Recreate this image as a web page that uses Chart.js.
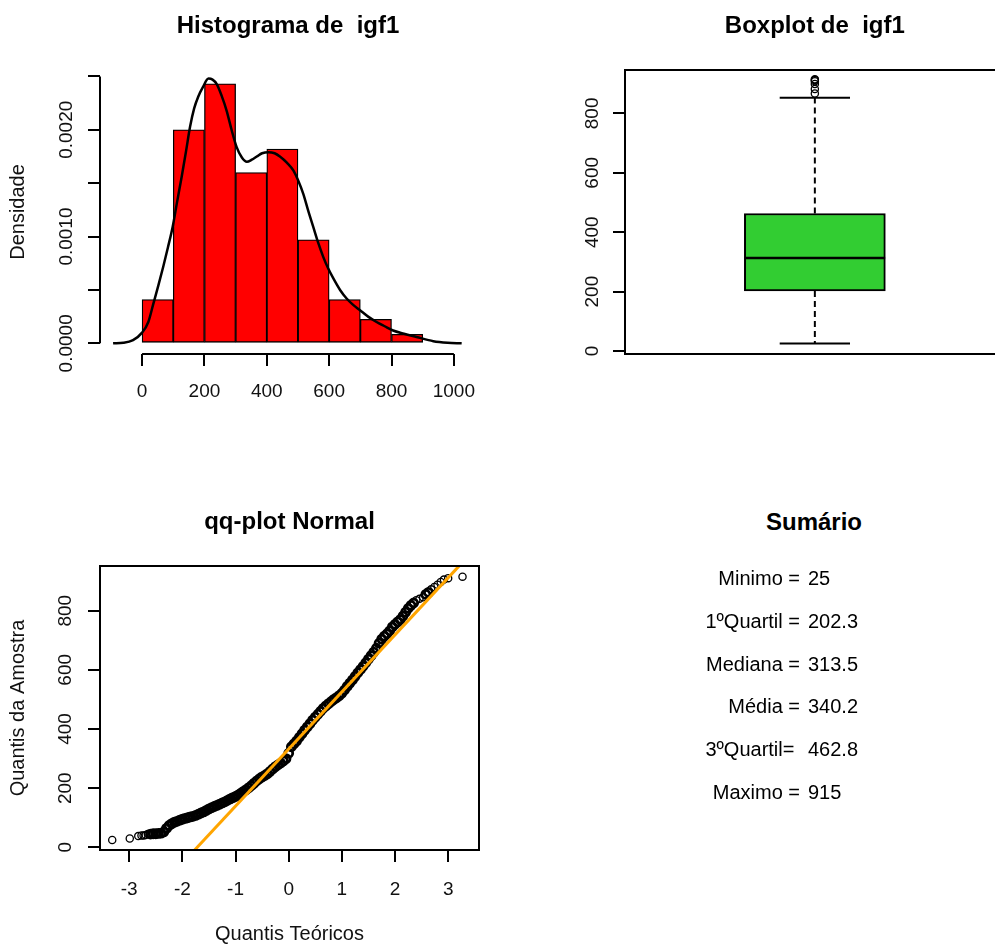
<!DOCTYPE html>
<html>
<head>
<meta charset="utf-8">
<title>igf1</title>
<script src="https://cdn.jsdelivr.net/npm/chart.js@4.4.0/dist/chart.umd.min.js"></script>
<style>
  html, body { margin: 0; padding: 0; background: #fff; overflow: hidden; width: 995px; height: 945px; }
  canvas { position: absolute; }
  #hist { left: 0; top: 0; }
  #box { left: 540px; top: 0; }
  #qq { left: 0; top: 500px; }
  .sum { position: absolute; font-family: "Liberation Sans", Arial, sans-serif; color: #000; white-space: pre; line-height: 24px; font-size: 20px; }
  .sum.title { font-weight: bold; font-size: 24px; line-height: 28px; width: 300px; left: 664px; text-align: center; }
  .sum.lab { left: 0; width: 800px; text-align: right; }
  .sum.val { left: 808px; }
</style>
</head>
<body>
<canvas id="hist" width="500" height="440"></canvas>
<canvas id="box" width="470" height="440"></canvas>
<canvas id="qq" width="500" height="445"></canvas>
<div id="summary"></div>
<script>
// histograma (densidade por classe de 100)
const histBreaks = [0, 100, 200, 300, 400, 500, 600, 700, 800, 900];
const histDensity = [0.00041, 0.0020, 0.00243, 0.0016, 0.00182, 0.00097, 0.00041, 0.000225, 0.000084];
const histXTicks = [0, 200, 400, 600, 800, 1000];
const histXLabels = ['0', '200', '400', '600', '800', '1000'];
const histYTicks = [0, 0.0005, 0.001, 0.0015, 0.002, 0.0025];
const histYLabels = ['0.0000', '', '0.0010', '', '0.0020', ''];

// curva de densidade
const densX = [-93, -60, -29, 0, 20, 36, 52, 68, 83, 98, 112, 127, 141, 154, 167, 180, 195, 213, 226, 239,
  255, 271, 287, 303, 320, 336, 352, 368, 385, 405, 425, 442, 465, 485, 500, 517, 533, 549, 565, 581,
  597, 613, 635, 656, 677, 699, 725, 752, 778, 805, 840, 880, 934, 980, 1025];
const densY = [0, 0.000005, 0.00003, 0.0001, 0.0002, 0.00037, 0.00054, 0.00072, 0.0009, 0.00109,
  0.00132, 0.00156, 0.0018, 0.00203, 0.0022, 0.00231, 0.0024, 0.00248, 0.00247, 0.00243,
  0.00232, 0.00218, 0.002, 0.00184, 0.00174, 0.0017, 0.00172, 0.00175, 0.00178, 0.00179,
  0.00178, 0.00175, 0.00169, 0.00162, 0.00153, 0.0014, 0.00124, 0.00109, 0.00094, 0.00081,
  0.0007, 0.00061, 0.0005, 0.00042, 0.00036, 0.00031, 0.00025, 0.0002, 0.00016, 0.00012,
  0.00009, 0.00006, 0.00002, 0.000005, 0];

// boxplot: bigode inferior, Q1, mediana, Q3, bigode superior
const boxStats = [25, 202.3, 313.5, 462.8, 853];
const boxOutliers = [867, 882, 899, 908, 912, 915];
const boxYTicks = [0, 200, 400, 600, 800];
const boxYLabels = ['0', '200', '400', '600', '800'];

// qq-plot
const qqTheo = [-3.32, -2.99, -2.83, -2.77, -2.73, -2.69,
  -2.65, -2.60, -2.55, -2.50, -2.45, -2.40, -2.35, -2.30, -2.25, -2.20,
  -2.15, -2.10, -2.05, -2.00, -1.95, -1.90, -1.85, -1.80, -1.75, -1.70,
  -1.65, -1.60, -1.55, -1.50, -1.45, -1.40, -1.35, -1.30, -1.25, -1.20,
  -1.15, -1.10, -1.05, -1.00, -0.95, -0.90, -0.85, -0.80, -0.75, -0.70,
  -0.65, -0.60, -0.55, -0.50, -0.45, -0.40, -0.35, -0.30, -0.25, -0.20,
  -0.15, -0.10, -0.05, 0.00, 0.05, 0.10, 0.15, 0.20, 0.25, 0.30,
  0.35, 0.40, 0.45, 0.50, 0.55, 0.60, 0.65, 0.70, 0.75, 0.80,
  0.85, 0.90, 0.95, 1.00, 1.05, 1.10, 1.15, 1.20, 1.25, 1.30,
  1.35, 1.40, 1.45, 1.50, 1.55, 1.60, 1.65, 1.70, 1.75, 1.80,
  1.85, 1.90, 1.95, 2.00, 2.05, 2.10, 2.15, 2.20, 2.25, 2.30,
  2.35, 2.40,
  2.46, 2.53, 2.58, 2.63, 2.68, 2.74, 2.80, 2.86, 2.92, 3.00, 3.27];
const qqSample = [25, 30, 38, 40, 40, 42,
  45, 45, 46, 46, 47, 48, 52, 64, 74, 80,
  85, 88, 92, 95, 98, 100, 103, 105, 108, 112,
  116, 120, 125, 130, 134, 138, 142, 146, 150, 154,
  159, 164, 168, 172, 177, 183, 189, 195, 202, 209,
  217, 225, 232, 238, 243, 249, 257, 265, 273, 279,
  285, 292, 300, 318, 340, 350, 360, 372, 384, 396,
  407, 418, 430, 440, 450, 460, 470, 478, 486, 493,
  500, 506, 513, 521, 532, 544, 555, 566, 578, 590,
  601, 612, 624, 636, 648, 660, 673, 690, 704, 714,
  722, 732, 745, 754, 762, 770, 782, 795, 808, 818,
  826, 835,
  840, 845, 855, 862, 872, 880, 888, 897, 905, 910, 915];
const qqLineX = [-1.80, 3.22];
const qqLineY = [-15, 954];
const qqXTicks = [-3, -2, -1, 0, 1, 2, 3];
const qqXLabels = ['-3', '-2', '-1', '0', '1', '2', '3'];
const qqYTicks = [0, 200, 400, 600, 800];
const qqYLabels = ['0', '200', '400', '600', '800'];

// sumário
const summaryLabels = ['Minimo =', '1ºQuartil =', 'Mediana =', 'Média =', '3ºQuartil= ', 'Maximo ='];
const summaryValues = ['25', '202.3', '313.5', '340.2', '462.8', '915'];

const FONT = '"Liberation Sans", Arial, sans-serif';
Chart.defaults.font.family = FONT;
Chart.defaults.color = '#000';

// titulos, rotulos verticais, eixos estilo R
const rDecor = {
    id: 'rDecor',
    afterDraw(chart, args, opts) {
        const ctx = chart.ctx;
        const a = chart.chartArea;
        const xs = chart.scales.x;
        const ys = chart.scales.y;
        ctx.save();
        ctx.fillStyle = '#000';
        ctx.strokeStyle = '#000';
        ctx.lineWidth = 2;

        ctx.beginPath();
        if (opts.frame) {
            ctx.rect(a.left, a.top, a.right - a.left, a.bottom - a.top);
        } else {
            const yt = ys.ticks, xt = xs.ticks;
            ctx.moveTo(a.left, ys.getPixelForValue(yt[0].value));
            ctx.lineTo(a.left, ys.getPixelForValue(yt[yt.length - 1].value));
            ctx.moveTo(xs.getPixelForValue(xt[0].value), a.bottom);
            ctx.lineTo(xs.getPixelForValue(xt[xt.length - 1].value), a.bottom);
        }
        ctx.stroke();

        ctx.textAlign = 'center';
        ctx.textBaseline = 'middle';
        ctx.font = 'bold 24px ' + FONT;
        ctx.fillText(opts.title, (a.left + a.right) / 2, opts.titleY);

        ctx.font = '19px ' + FONT;
        ctx.fillStyle = '#111';
        ys.ticks.forEach((t, i) => {
            const label = opts.yLabels[i];
            if (!label) return;
            ctx.save();
            ctx.translate(opts.yLabelX, ys.getPixelForValue(t.value));
            ctx.rotate(-Math.PI / 2);
            ctx.fillText(label, 0, 0);
            ctx.restore();
        });

        ctx.font = '20px ' + FONT;
        if (opts.yTitle) {
            ctx.save();
            ctx.translate(opts.yTitleX, (a.top + a.bottom) / 2);
            ctx.rotate(-Math.PI / 2);
            ctx.fillText(opts.yTitle, 0, 0);
            ctx.restore();
        }
        if (opts.xTitle) {
            ctx.fillText(opts.xTitle, (a.left + a.right) / 2, opts.xTitleY);
        }
        ctx.restore();
    }
};

function yAxis(min, max, ticks, width) {
    return {
        type: 'linear', min: min, max: max, bounds: 'data',
        afterBuildTicks: s => { s.ticks = ticks.map(v => ({ value: v })); },
        afterFit: s => { s.width = width; },
        grid: { drawOnChartArea: false, drawTicks: true, tickLength: 12, color: '#000', lineWidth: 2 },
        border: { display: false },
        ticks: { display: false }
    };
}

function xAxis(min, max, ticks, labels, height, pad) {
    return {
        type: 'linear', min: min, max: max, bounds: 'data', offset: false,
        afterBuildTicks: s => { s.ticks = ticks.map(v => ({ value: v })); },
        afterFit: s => { s.height = height; },
        grid: { offset: false, drawOnChartArea: false, drawTicks: true, tickLength: 12, color: '#000', lineWidth: 2 },
        border: { display: false },
        ticks: {
            color: '#111', font: { size: 19 }, padding: pad, maxRotation: 0, minRotation: 0, autoSkip: false,
            callback: (v, i) => labels[i]
        }
    };
}

const common = {
    responsive: false,
    animation: false,
    events: [],
    plugins: { legend: { display: false }, tooltip: { enabled: false } }
};

// Histograma
new Chart(document.getElementById('hist'), {
    type: 'bar',
    data: {
        datasets: [
            {
                type: 'line',
                data: densX.map((x, i) => ({ x: x, y: densY[i] })),
                borderColor: '#000',
                borderWidth: 2.5,
                pointRadius: 0,
                fill: false,
                cubicInterpolationMode: 'monotone'
            },
            {
                type: 'bar',
                data: histDensity.map((d, i) => ({ x: (histBreaks[i] + histBreaks[i + 1]) / 2, y: d })),
                backgroundColor: '#FF0000',
                borderColor: '#000',
                borderWidth: 1.3,
                borderSkipped: false,
                barPercentage: 1,
                categoryPercentage: 1
            }
        ]
    },
    options: {
        ...common,
        layout: { padding: { left: 0, top: 70, right: 24, bottom: 0 } },
        scales: {
            x: xAxis(-135, 1071, histXTicks, histXLabels, 86, 14),
            y: yAxis(-0.0001, 0.00256, histYTicks, 100)
        },
        plugins: {
            ...common.plugins,
            rDecor: { title: 'Histograma de  igf1', titleY: 26, yLabels: histYLabels, yLabelX: 67, yTitle: 'Densidade', yTitleX: 18 }
        }
    },
    plugins: [rDecor]
});

// Boxplot
const boxCenter = 1, boxHalf = 0.2, capHalf = 0.1;
const [wLow, q1, med, q3, wHigh] = boxStats;
const seg = (x1, y1, x2, y2) => [{ x: x1, y: y1 }, { x: x2, y: y2 }];
new Chart(document.getElementById('box'), {
    type: 'bar',
    data: {
        datasets: [
            {
                type: 'scatter',
                data: boxOutliers.map(v => ({ x: boxCenter, y: v })),
                pointRadius: 3.6, borderWidth: 1.3, borderColor: '#000', backgroundColor: 'rgba(0,0,0,0)'
            },
            { type: 'line', data: seg(boxCenter - boxHalf, med, boxCenter + boxHalf, med), borderColor: '#000', borderWidth: 2.5, pointRadius: 0 },
            { type: 'line', data: seg(boxCenter, q3, boxCenter, wHigh), borderColor: '#000', borderWidth: 2, borderDash: [6, 4], pointRadius: 0 },
            { type: 'line', data: seg(boxCenter, q1, boxCenter, wLow), borderColor: '#000', borderWidth: 2, borderDash: [6, 4], pointRadius: 0 },
            { type: 'line', data: seg(boxCenter - capHalf, wHigh, boxCenter + capHalf, wHigh), borderColor: '#000', borderWidth: 2, pointRadius: 0 },
            { type: 'line', data: seg(boxCenter - capHalf, wLow, boxCenter + capHalf, wLow), borderColor: '#000', borderWidth: 2, pointRadius: 0 },
            {
                type: 'bar',
                data: [{ x: boxCenter, y: [q1, q3] }],
                backgroundColor: '#32CD32',
                borderColor: '#000',
                borderWidth: 2,
                borderSkipped: false,
                barThickness: 141
            }
        ]
    },
    options: {
        ...common,
        layout: { padding: { left: 0, top: 70, right: 5, bottom: 86 } },
        scales: {
            x: { type: 'linear', min: 0.46, max: 1.54, bounds: 'data', offset: false, display: false },
            y: yAxis(-10, 946, boxYTicks, 85)
        },
        plugins: {
            ...common.plugins,
            rDecor: { title: 'Boxplot de  igf1', titleY: 26, frame: true, yLabels: boxYLabels, yLabelX: 53 }
        }
    },
    plugins: [rDecor]
});

// qq-plot: pontos muito proximos viram uma faixa preta (como no R com muitos pontos)
function qqDense(ctx) {
    const i = ctx.dataIndex;
    const prev = i > 0 ? qqTheo[i] - qqTheo[i - 1] : 1;
    const next = i < qqTheo.length - 1 ? qqTheo[i + 1] - qqTheo[i] : 1;
    return prev <= 0.051 && next <= 0.051 && prev >= 0.045;
}
new Chart(document.getElementById('qq'), {
    type: 'scatter',
    data: {
        datasets: [
            {
                type: 'line',
                data: qqLineX.map((x, i) => ({ x: x, y: qqLineY[i] })),
                borderColor: '#FFA500',
                borderWidth: 3,
                pointRadius: 0
            },
            {
                type: 'scatter',
                data: qqTheo.map((x, i) => ({ x: x, y: qqSample[i] })),
                pointRadius: ctx => qqDense(ctx) ? 4 : 3.6,
                borderWidth: ctx => qqDense(ctx) ? 2.8 : 1.3,
                borderColor: '#000',
                backgroundColor: 'rgba(0,0,0,0)'
            }
        ]
    },
    options: {
        ...common,
        layout: { padding: { left: 0, top: 66, right: 21, bottom: 0 } },
        scales: {
            x: xAxis(-3.55, 3.58, qqXTicks, qqXLabels, 95, 16),
            y: yAxis(-9, 951, qqYTicks, 100)
        },
        plugins: {
            ...common.plugins,
            rDecor: {
                title: 'qq-plot Normal', titleY: 22, frame: true, yLabels: qqYLabels, yLabelX: 66,
                yTitle: 'Quantis da Amostra', yTitleX: 18, xTitle: 'Quantis Teóricos', xTitleY: 434.5
            }
        }
    },
    plugins: [rDecor]
});

// Sumario (texto)
const summary = document.getElementById('summary');
const titleEl = document.createElement('div');
titleEl.className = 'sum title';
titleEl.style.top = (522 - 14) + 'px';
titleEl.textContent = 'Sumário';
summary.appendChild(titleEl);
summaryLabels.forEach((lab, i) => {
    const cy = 578.3 + i * 42.7;
    const l = document.createElement('div');
    l.className = 'sum lab';
    l.style.top = (cy - 12) + 'px';
    l.textContent = lab;
    summary.appendChild(l);
    const v = document.createElement('div');
    v.className = 'sum val';
    v.style.top = (cy - 12) + 'px';
    v.textContent = summaryValues[i];
    summary.appendChild(v);
});
</script>
</body>
</html>
